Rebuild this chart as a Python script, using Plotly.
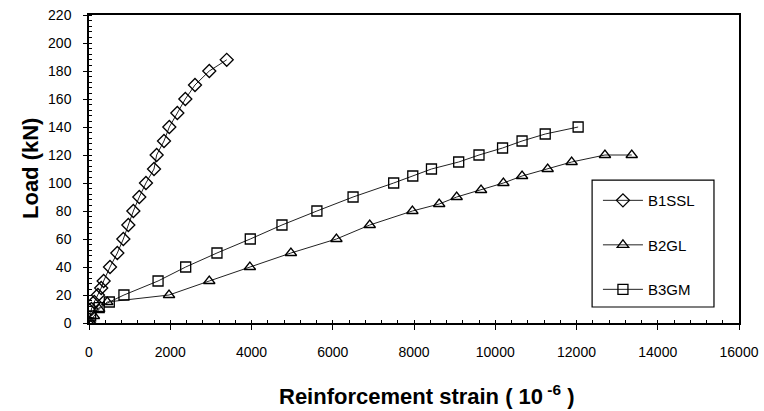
import plotly.graph_objects as go

# ---- data ----
b1ssl_strain = [0, 60, 130, 220, 300, 360, 517, 697, 845, 968, 1092, 1238, 1402, 1600, 1665, 1846, 1977, 2174, 2371, 2609, 2961, 3390]
b1ssl_load = [0, 10, 15, 20, 25, 30, 40, 50, 60, 70, 80, 90, 100, 110, 120, 130, 140, 150, 160, 170, 180, 188]

b2gl_strain = [0, 120, 250, 450, 1970, 2960, 3960, 4970, 6090, 6910, 7960, 8620, 9050, 9650, 10200, 10660, 11290, 11880, 12700, 13360]
b2gl_load = [0, 5, 10, 15, 20, 30, 40, 50, 60, 70, 80, 85, 90, 95, 100, 105, 110, 115, 120, 120]

b3gm_strain = [0, 40, 250, 500, 860, 1700, 2380, 3150, 3970, 4750, 5610, 6500, 7500, 7970, 8430, 9100, 9600, 10180, 10660, 11230, 12040]
b3gm_load = [0, 5, 11, 15, 20, 30, 40, 50, 60, 70, 80, 90, 100, 105, 110, 115, 120, 125, 130, 135, 140]

x_ticks = [0, 2000, 4000, 6000, 8000, 10000, 12000, 14000, 16000]
x_ticklabels = ["0", "2000", "4000", "6000", "8000", "10000", "12000", "14000", "16000"]
y_ticks = [0, 20, 40, 60, 80, 100, 120, 140, 160, 180, 200, 220]

series = [
    ("B1SSL", b1ssl_strain, b1ssl_load, "diamond-open"),
    ("B2GL", b2gl_strain, b2gl_load, "triangle-up-open"),
    ("B3GM", b3gm_strain, b3gm_load, "square-open"),
]

FONT = "Arial, Liberation Sans, sans-serif"

fig = go.Figure()
for i, (name, xs, ys, sym) in enumerate(series):
    fig.add_trace(go.Scatter(
        x=xs, y=ys, name=name, mode="lines+markers",
        line=dict(color="#222222", width=1),
        marker=dict(symbol=sym, size=10, color="black", line=dict(width=1.3, color="black")),
        legendgroup=f"g{i}",
    ))

# legend frame
fig.add_shape(type="rect", xref="paper", yref="paper",
              x0=0.774, x1=0.9615, y0=0.052, y1=0.464,
              line=dict(color="black", width=1.2), fillcolor="white", layer="below")

fig.add_annotation(text="<b>Reinforcement strain ( 10<sup> -6</sup> )</b>", xref="paper", yref="paper",
                   x=0.52, y=0, yanchor="middle", xanchor="center", yshift=-72, showarrow=False,
                   font=dict(size=22, family=FONT, color="black"))
fig.add_annotation(text="<b>Load (kN)</b>", xref="paper", yref="paper",
                   x=0, y=0.5, xanchor="center", yanchor="middle", xshift=-59, textangle=-90,
                   showarrow=False, font=dict(size=22, family=FONT, color="black"))

fig.update_layout(
    width=764, height=411,
    margin=dict(l=89, r=25, t=15, b=88),
    paper_bgcolor="white", plot_bgcolor="white",
    font=dict(family=FONT, color="black", size=14),
    showlegend=True,
    legend=dict(
        x=0.783, y=0.451, xanchor="left", yanchor="top",
        borderwidth=0, bgcolor="rgba(0,0,0,0)",
        font=dict(size=15, family=FONT, color="black"),
        tracegroupgap=22, traceorder="grouped", itemwidth=40,
    ),
    xaxis=dict(
        range=[0, 16000], tickvals=x_ticks, ticktext=x_ticklabels,
        showgrid=False, zeroline=False, automargin=False,
        showline=True, linecolor="black", linewidth=1.5, mirror=True,
        ticks="outside", ticklen=5, tickcolor="black", tickwidth=1,
        minor=dict(dtick=400, ticks="inside", ticklen=3, tickcolor="black", showgrid=False),
        ticklabelstandoff=10,
        tickfont=dict(size=14, family=FONT),
    ),
    yaxis=dict(
        range=[0, 220], tickvals=y_ticks,
        showgrid=False, zeroline=False, automargin=False,
        showline=True, linecolor="black", linewidth=1.5, mirror=True,
        ticks="outside", ticklen=4, tickcolor="black", tickwidth=1,
        minor=dict(dtick=4, ticks="inside", ticklen=3, tickcolor="black", showgrid=False),
        ticklabelstandoff=9,
        tickfont=dict(size=14, family=FONT),
    ),
)

fig.write_html("out.html", config={"displayModeBar": False},
               post_script="document.body.style.margin='0';document.body.style.overflow='hidden';")
